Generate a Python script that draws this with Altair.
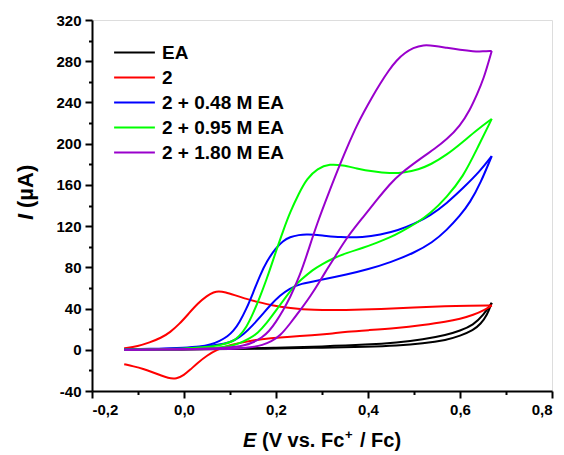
import altair as alt
import pandas as pd

# Cyclic voltammograms: forward (anodic) sweep and return sweep for each solution
SERIES = ["EA", "2", "2 + 0.48 M EA", "2 + 0.95 M EA", "2 + 1.80 M EA"]
COLORS = ["#000000", "#ff0000", "#0000ff", "#00ff00", "#9900cc"]

ea_fwd_e = [-0.13, 0.0, 0.1, 0.2, 0.3, 0.4, 0.462, 0.52, 0.571, 0.6, 0.629, 0.651, 0.669]
ea_fwd_i = [0.3, 0.6, 1.0, 2.0, 3.2, 5.0, 7.0, 10.0, 14.4, 18.5, 24.0, 33.8, 45.5]
ea_rev_e = [0.669, 0.659, 0.645, 0.629, 0.6, 0.571, 0.52, 0.462, 0.4, 0.3, 0.2, 0.1, 0.0, -0.13]
ea_rev_i = [45.5, 33.8, 25.0, 19.0, 13.5, 9.5, 6.0, 4.0, 3.0, 2.0, 1.2, 0.6, 0.3, 0.0]

c2_fwd_e = [-0.13, -0.1, -0.075, -0.05, -0.03, -0.01, 0.01, 0.03, 0.05, 0.065, 0.075,
            0.09, 0.11, 0.13, 0.16, 0.19, 0.23, 0.28, 0.35, 0.43, 0.5, 0.57, 0.62, 0.669]
c2_fwd_i = [1.5, 3.5, 7.0, 11.5, 17.0, 25.0, 35.0, 45.0, 52.5, 56.0, 57.0,
            56.0, 53.0, 50.0, 46.5, 43.0, 40.5, 38.5, 38.5, 39.5, 41.0, 42.5, 42.8, 43.0]
c2_rev_e = [0.669, 0.655, 0.629, 0.6, 0.571, 0.52, 0.462, 0.4, 0.354, 0.317, 0.28, 0.23,
            0.19, 0.143, 0.1, 0.071, 0.05, 0.03, 0.013, 0.0, -0.016, -0.035, -0.052,
            -0.07, -0.088, -0.11, -0.13]
c2_rev_i = [43.0, 39.0, 33.8, 30.0, 27.3, 24.0, 20.9, 19.0, 17.6, 15.5, 14.0, 12.7,
            11.3, 8.8, 4.7, 0.0, -5.5, -12.5, -19.6, -24.5, -28.3, -27.5, -24.5,
            -21.5, -18.6, -16.0, -14.0]

b48_fwd_e = [-0.13, -0.05, 0.0, 0.035, 0.057, 0.078, 0.095, 0.107, 0.12, 0.136, 0.15,
             0.165, 0.18, 0.2, 0.215, 0.23, 0.25, 0.267, 0.3, 0.339, 0.39, 0.426, 0.466,
             0.5, 0.535, 0.571, 0.607, 0.643, 0.669]
b48_fwd_i = [0.5, 1.0, 2.0, 3.0, 5.0, 8.5, 13.0, 18.0, 26.0, 40.0, 55.0,
             72.0, 86.0, 99.0, 105.5, 109.5, 111.5, 112.0, 111.0, 109.0, 109.0, 111.5, 116.0,
             122.0, 130.0, 142.0, 157.0, 173.0, 188.0]
b48_rev_e = [0.669, 0.645, 0.622, 0.6, 0.571, 0.54, 0.5, 0.45, 0.4, 0.354, 0.3, 0.252,
             0.23, 0.209, 0.187, 0.17, 0.15, 0.13, 0.11, 0.09, 0.06, 0.03, 0.0, -0.05, -0.13]
b48_rev_i = [188.0, 162.0, 143.0, 130.0, 116.0, 104.0, 94.0, 85.0, 78.0, 73.0, 68.0, 64.0,
             59.5, 53.0, 43.0, 34.0, 24.0, 15.0, 9.0, 6.0, 4.0, 2.4, 1.5, 0.8, 0.5]

g95_fwd_e = [-0.13, -0.05, 0.0, 0.05, 0.08, 0.107, 0.12, 0.136, 0.15, 0.165, 0.18, 0.19,
             0.201, 0.216, 0.23, 0.25, 0.267, 0.29, 0.317, 0.345, 0.375, 0.41, 0.448, 0.48,
             0.51, 0.535, 0.571, 0.607, 0.636, 0.669]
g95_fwd_i = [0.3, 0.6, 1.0, 2.5, 4.5, 8.0, 13.0, 22.0, 35.0, 51.0, 69.0, 82.0,
             97.0, 116.0, 133.0, 152.0, 166.0, 176.0, 180.4, 179.0, 176.0, 173.0, 171.0, 172.0,
             175.0, 179.4, 189.0, 202.0, 213.0, 224.0]
g95_rev_e = [0.669, 0.636, 0.607, 0.571, 0.535, 0.506, 0.47, 0.448, 0.42, 0.39, 0.354,
             0.325, 0.3, 0.281, 0.252, 0.238, 0.216, 0.2, 0.18, 0.16, 0.143, 0.12, 0.1,
             0.07, 0.03, -0.05, -0.13]
g95_rev_i = [224.0, 194.0, 168.0, 148.0, 132.0, 123.0, 114.0, 109.0, 104.0, 99.0, 94.0,
             89.0, 83.0, 78.0, 67.0, 61.0, 48.0, 38.0, 26.0, 16.0, 11.0, 6.0, 3.5,
             2.0, 1.0, 0.3, 0.0]

p18_fwd_e = [-0.13, 0.0, 0.1, 0.13, 0.15, 0.17, 0.185, 0.2, 0.215, 0.23, 0.252, 0.27,
             0.288, 0.317, 0.34, 0.361, 0.375, 0.39, 0.41, 0.426, 0.445, 0.462, 0.48, 0.498,
             0.52, 0.545, 0.571, 0.6, 0.629, 0.65, 0.669]
p18_fwd_i = [0.0, 0.5, 2.0, 4.0, 7.0, 12.0, 18.0, 27.0, 38.0, 50.0, 72.0, 96.0,
             121.0, 155.0, 181.0, 203.0, 217.0, 230.0, 246.0, 258.0, 271.0, 281.0, 288.0, 293.0,
             296.0, 295.0, 293.0, 291.0, 289.5, 289.5, 290.0]
p18_rev_e = [0.669, 0.651, 0.636, 0.622, 0.6, 0.571, 0.545, 0.52, 0.47, 0.448, 0.42,
             0.39, 0.354, 0.328, 0.31, 0.296, 0.275, 0.252, 0.23, 0.209, 0.19, 0.17, 0.15,
             0.12, 0.08, 0.0, -0.13]
p18_rev_i = [290.0, 262.0, 247.0, 233.0, 217.0, 204.0, 195.0, 187.5, 171.0, 161.0, 146.0,
             129.0, 109.0, 90.0, 77.5, 67.0, 52.0, 38.0, 25.0, 13.5, 8.0, 4.5, 2.5,
             1.2, 0.6, 0.2, 0.0]

sweeps = {
    "EA": ((ea_fwd_e, ea_fwd_i), (ea_rev_e, ea_rev_i)),
    "2": ((c2_fwd_e, c2_fwd_i), (c2_rev_e, c2_rev_i)),
    "2 + 0.48 M EA": ((b48_fwd_e, b48_fwd_i), (b48_rev_e, b48_rev_i)),
    "2 + 0.95 M EA": ((g95_fwd_e, g95_fwd_i), (g95_rev_e, g95_rev_i)),
    "2 + 1.80 M EA": ((p18_fwd_e, p18_fwd_i), (p18_rev_e, p18_rev_i)),
}

rows = []
for name, (fwd, rev) in sweeps.items():
    for sweep, (es, cur) in (("forward", fwd), ("reverse", rev)):
        for e, i in zip(es, cur):
            rows.append({"series": name, "sweep": sweep, "E": e, "I": i})
df = pd.DataFrame(rows)

FONT = "Liberation Sans"

x_ticks = [-0.2, -0.1, 0.0, 0.1, 0.2, 0.3, 0.4, 0.5, 0.6, 0.7, 0.8]
y_ticks = list(range(-40, 321, 20))

x_axis = alt.Axis(
    values=x_ticks,
    labelExpr="abs(round(datum.value*10)) % 2 == 0 ? (datum.value < -0.001 ? '-' : '') + "
              "replace(format(abs(datum.value), '.1f'), '.', ',') : ''",
    tickSize=alt.condition("abs(round(datum.value*10)) % 2 == 0", alt.value(7), alt.value(3.5)),
    tickWidth=2, tickColor="black", domainColor="black", domainWidth=2,
    labelFont=FONT, labelFontSize=15, labelFontWeight="bold", labelColor="black",
    labelPadding=4, labelOverlap=False, grid=False, title=None,
)
y_axis = alt.Axis(
    values=y_ticks,
    labelExpr="datum.value % 40 == 0 ? (datum.value < 0 ? '-' : '') + format(abs(datum.value), 'd') : ''",
    tickSize=alt.condition("datum.value % 40 == 0", alt.value(7), alt.value(3.5)),
    tickWidth=2, tickColor="black", domainColor="black", domainWidth=2,
    labelFont=FONT, labelFontSize=15, labelFontWeight="bold", labelColor="black",
    labelPadding=4, labelOverlap=False, grid=False, title=None,
)

lines = alt.Chart(df).mark_line(strokeWidth=2, interpolate="basis").encode(
    x=alt.X("E:Q", scale=alt.Scale(domain=[-0.2, 0.8], nice=False, zero=False), axis=x_axis),
    y=alt.Y("I:Q", scale=alt.Scale(domain=[-40, 320], nice=False, zero=False), axis=y_axis),
    color=alt.Color(
        "series:N",
        scale=alt.Scale(domain=SERIES, range=COLORS),
        legend=alt.Legend(
            orient="none", legendX=33, legendY=23, title=None,
            symbolType="M-8,0H8", symbolSize=26, symbolStrokeWidth=2,
            labelFont=FONT, labelFontSize=19, labelFontWeight="bold", labelColor="black",
            labelOffset=18, rowPadding=5, padding=0,
        ),
    ),
    detail="sweep:N",
    order="E:Q",
)


def label(text, x, y, size, style="normal", angle=0):
    return alt.Chart(pd.DataFrame({"t": [text]})).mark_text(
        font=FONT, fontSize=size, fontWeight="bold", fontStyle=style,
        align="left", baseline="alphabetic", angle=angle, color="black",
    ).encode(text="t:N", x=alt.value(x), y=alt.value(y))


titles = [
    label("E", 151, 427, 20, "italic"),
    label("(V vs. Fc", 170, 427, 20),
    label("+", 253, 419, 13),
    label("/ Fc)", 268, 427, 20),
    label("I", -59, 200, 22, "italic", 270),
    label("(µA)", -59, 188, 22, "normal", 270),
]

chart = alt.layer(lines, *titles).properties(
    width=460, height=371,
    padding={"left": 92, "top": 20, "right": 12, "bottom": 64},
    autosize=alt.AutoSizeParams(type="none"),
).configure_view(stroke="black", strokeWidth=2).configure(font=FONT)

chart.save("out.html", embed_options={"renderer": "svg", "actions": False})
